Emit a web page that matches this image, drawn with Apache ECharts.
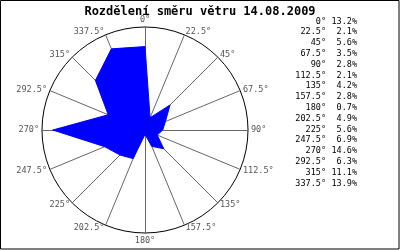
<!DOCTYPE html>
<html>
<head>
<meta charset="utf-8">
<script src="https://cdn.jsdelivr.net/npm/echarts@6/dist/echarts.min.js"></script>
<style>html,body{margin:0;padding:0;background:#fff}#c{width:400px;height:250px}</style>
</head>
<body>
<div id="c"></div>
<script>
var titleText = 'Rozdělení směru větru 14.08.2009';
var directions = ['0', '22.5', '45', '67.5', '90', '112.5', '135', '157.5', '180', '202.5', '225', '247.5', '270', '292.5', '315', '337.5'];
var percents = [13.2, 2.1, 5.6, 3.5, 2.8, 2.1, 4.2, 2.8, 0.7, 4.9, 5.6, 6.9, 14.6, 6.3, 11.1, 13.9];
var radialMax = 16.3;

// radar lays axes counter-clockwise, compass goes clockwise: reverse after the first
var order = [0];
for (var i = directions.length - 1; i >= 1; i--) order.push(i);
var indicators = order.map(function (i) { return { name: directions[i] + '°', max: radialMax, min: 0 }; });
var radarValues = order.map(function (i) { return percents[i]; });

var legendAngles = directions.map(function (d) { return d + '°'; }).join('\n');
var legendPcts = percents.map(function (p) { return p.toFixed(1) + '%'; }).join('\n');

var mono = '"DejaVu Sans Mono", monospace';
var chart = echarts.init(document.getElementById('c'), null, { renderer: 'canvas' });
chart.setOption({
  backgroundColor: '#ffffff',
  animation: false,
  title: {
    text: titleText, left: 'center', top: 1,
    textStyle: { fontFamily: mono, fontWeight: 'bold', fontSize: 12, color: '#000' }
  },
  radar: {
    center: [145, 130],
    radius: 103,
    startAngle: 90,
    shape: 'circle',
    splitNumber: 1,
    indicator: indicators,
    nameGap: 3,
    axisName: { color: '#555', fontFamily: mono, fontSize: 8.5 },
    axisLine: { lineStyle: { color: '#666', width: 1 } },
    splitLine: { lineStyle: { color: '#000', width: 1 } },
    splitArea: { show: false },
    axisTick: { show: false },
    axisLabel: { show: false }
  },
  series: [{
    type: 'radar',
    symbol: 'none',
    data: [{
      value: radarValues,
      lineStyle: { color: '#0000ff', width: 1 },
      areaStyle: { color: '#0000ff', opacity: 1 }
    }]
  }],
  graphic: [
    { type: 'rect', shape: { x: 0.5, y: 0.5, width: 398.5, height: 248.5 }, style: { fill: 'none', stroke: '#000', lineWidth: 1 }, silent: true },
    { type: 'text', x: 326, y: 16, style: { text: legendAngles, textAlign: 'right', font: '8.5px ' + mono, fill: '#000', lineHeight: 10.8 } },
    { type: 'text', x: 357, y: 16, style: { text: legendPcts, textAlign: 'right', font: '8.5px ' + mono, fill: '#000', lineHeight: 10.8 } }
  ]
});
</script>
</body>
</html>
